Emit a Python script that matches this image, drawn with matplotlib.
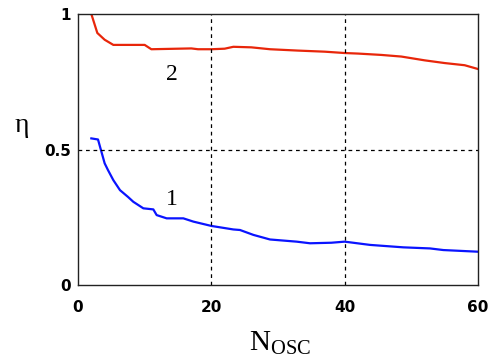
import matplotlib.pyplot as plt
import numpy as np

# efficiency vs number of oscillators
n_red = [2, 2.9, 4, 5.3, 10, 11, 17, 18, 20, 22, 23.3, 26, 28.8, 33, 37, 40, 42, 45.5, 48.5, 52, 55, 58, 60]
eta_red = [1.0, 0.93, 0.905, 0.886, 0.886, 0.87, 0.873, 0.87, 0.87, 0.872, 0.879, 0.877, 0.87, 0.865, 0.861, 0.856, 0.854, 0.849, 0.843, 0.829, 0.819, 0.811, 0.797]

n_blue = [2, 3.0, 4, 4.5, 5.3, 6.3, 7.5, 8.3, 9.8, 11.3, 11.8, 13.3, 15.8, 17.3, 20, 23.3, 24.3, 26.3, 28.8, 32.8, 34.8, 38, 40, 43.8, 48.8, 52.8, 54.8, 59.9]
eta_blue = [0.541, 0.537, 0.449, 0.424, 0.387, 0.35, 0.325, 0.307, 0.283, 0.279, 0.258, 0.246, 0.246, 0.234, 0.218, 0.205, 0.203, 0.185, 0.168, 0.16, 0.154, 0.156, 0.16, 0.148, 0.139, 0.135, 0.129, 0.123]

xticks = [0, 20, 40, 60]
yticks = [0, 0.5, 1]
yticklabels = ['0', '0.5', '1']

fig = plt.figure(figsize=(4.89, 3.6), dpi=100)
ax = fig.add_axes([0.1595, 0.2083, 0.818, 0.7528])

ax.plot(n_red, eta_red, color='#e8260a', lw=1.6)
ax.plot(n_blue, eta_blue, color='#0a14ff', lw=1.6)

ax.set_xlim(0, 60)
ax.set_ylim(0, 1)
ax.set_xticks(xticks)
ax.set_yticks(yticks)
ax.set_yticklabels(yticklabels)
ax.tick_params(length=0, labelsize=11)
ax.tick_params(axis='x', pad=11)
ax.tick_params(axis='y', pad=5)
for lab in ax.get_xticklabels() + ax.get_yticklabels():
    lab.set_fontweight('bold')

for x in [20, 40]:
    ax.axvline(x, color='black', ls=(0, (3, 3)), lw=0.9)
ax.axhline(0.5, color='black', ls=(0, (3, 3)), lw=0.9)

for s in ax.spines.values():
    s.set_linewidth(1.0)
    s.set_color('#222222')

ax.text(14.1, 0.775, '2', fontsize=17, family='Liberation Serif', ha='center', va='center')
ax.text(14.1, 0.314, '1', fontsize=17, family='Liberation Serif', ha='center', va='center')

fig.text(22/489, 1 - 125/360, 'η', fontsize=20, family='Liberation Serif', ha='center', va='center')
plt.rcParams['mathtext.fontset'] = 'custom'
plt.rcParams['mathtext.rm'] = 'Liberation Serif'
fig.text(280/489, 1 - 343/360, r'$\mathrm{N_{OSC}}$', fontsize=21, ha='center', va='center')

fig.savefig('out.png', dpi=100)
